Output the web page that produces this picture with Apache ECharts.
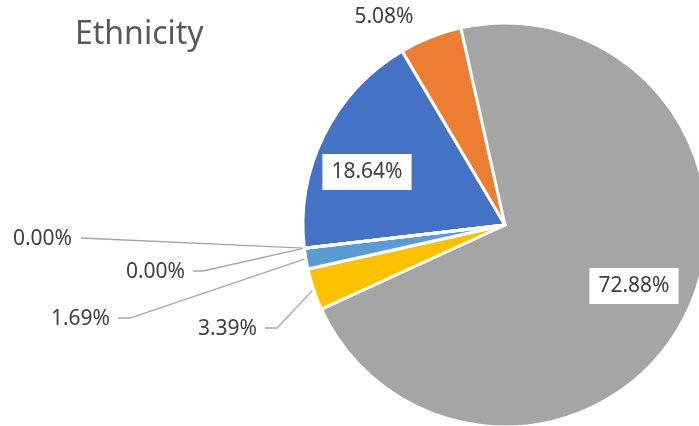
<!DOCTYPE html>
<html>
<head>
<meta charset="utf-8">
<script src="https://cdn.jsdelivr.net/npm/echarts@6/dist/echarts.min.js"></script>
<style>
html,body{margin:0;padding:0;background:#fff;}
#chart{width:699px;height:426px;}
</style>
</head>
<body>
<div id="chart"></div>
<script>
// ---- data ----
const categories = ['Group 1', 'Group 2', 'Group 3', 'Group 4', 'Group 5', 'Group 6', 'Group 7'];
const shares = [18.64, 5.08, 72.88, 3.39, 1.69, 0.00, 0.00];
const chartTitle = 'Ethnicity';

// ---- styles / layout ----
const colors = ['#4472C4', '#ED7D31', '#A5A5A5', '#FFC000', '#5B9BD5', '#70AD47', '#264478'];
const CX = 505, CY = 225, R = 202, START = 186.6;
const FONT = 'Noto Sans';
const TEXT = '#404040';
const LINE = '#A6A6A6';

// label placement per slice: x,y anchor, alignment, and leader elbow points
const labelPlacement = [
  { x: 367, y: 172, align: 'center' },                                  // 18.64 inside
  { x: 384, y: 17, align: 'center' },                                   // 5.08 outside, no line
  { x: 634, y: 286, align: 'center' },                                  // 72.88 inside
  { x: 257, y: 329, align: 'right', line: [[277, 328], [265, 328]] },   // 3.39
  { x: 110, y: 319, align: 'right', line: [[130, 318], [118, 318]] },   // 1.69
  { x: 72,  y: 239, align: 'right', line: [[81, 238]] },                // 0.00 upper
  { x: 185, y: 272, align: 'right', line: [[203, 271], [193, 271]] }    // 0.00 lower
];

const total = shares.reduce((a, b) => a + b, 0);
function midPoint(i) {
  let cum = 0;
  for (let k = 0; k < i; k++) cum += shares[k];
  const a = (START - (cum + shares[i] / 2) / total * 360) * Math.PI / 180;
  return [CX + R * Math.cos(a), CY - R * Math.sin(a)];
}

const insideIdx = [0, 2];
const data = categories.map((name, i) => {
  const item = { name: name, value: shares[i], itemStyle: { color: colors[i] } };
  if (insideIdx.indexOf(i) >= 0) {
    item.label = { position: 'inside', backgroundColor: '#fff', padding: [8, 9, 7, 9] };
    item.labelLine = { show: false };
  } else if (!labelPlacement[i].line) {
    item.labelLine = { show: false };
  }
  return item;
});

const chart = echarts.init(document.getElementById('chart'), null, { renderer: 'canvas' });
chart.setOption({
  animation: false,
  backgroundColor: '#fff',
  title: {
    text: chartTitle,
    left: 70,
    top: 14,
    textStyle: { fontFamily: FONT, fontSize: 32, fontWeight: 'normal', color: '#595959' }
  },
  series: [{
    type: 'pie',
    center: [CX, CY],
    radius: R,
    startAngle: START,
    clockwise: true,
    avoidLabelOverlap: false,
    silent: true,
    data: data,
    itemStyle: { borderColor: '#fff', borderWidth: 3 },
    label: {
      show: true,
      position: 'outside',
      fontFamily: FONT,
      fontSize: 21,
      color: TEXT,
      formatter: p => Number(p.value).toFixed(2) + '%'
    },
    labelLine: {
      show: true,
      length: 10,
      length2: 10,
      lineStyle: { color: LINE, width: 1.3 }
    },
    labelLayout: function (params) {
      const i = params.dataIndex;
      const cfg = labelPlacement[i];
      const out = { x: cfg.x, y: cfg.y, align: cfg.align, verticalAlign: 'middle', hideOverlap: false, moveOverlap: false };
      if (cfg.line) {
        out.labelLinePoints = [midPoint(i)].concat(cfg.line);
      }
      return out;
    }
  }]
});
</script>
</body>
</html>
